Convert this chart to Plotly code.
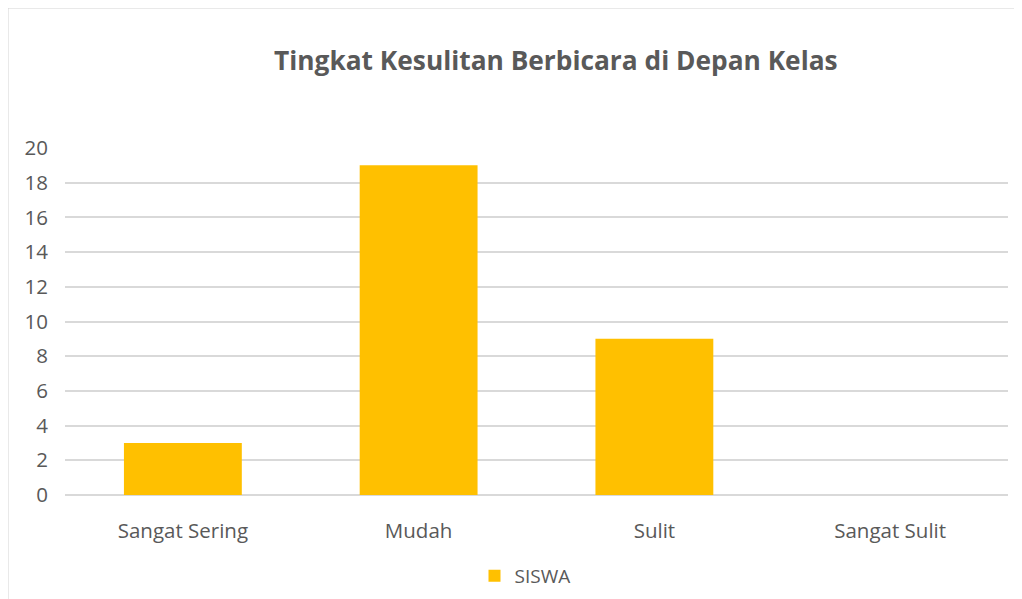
import plotly.graph_objects as go

categories = ["Sangat Sering", "Mudah", "Sulit", "Sangat Sulit"]
siswa = [3, 19, 9, 0]
y_ticks = [0, 2, 4, 6, 8, 10, 12, 14, 16, 18, 20]

OFF = 8  # page body margin
H = 599 - OFF
W = 1022 - OFF - 8
L, T = 65 - OFF, 148 - OFF
R = W - (1008 - OFF)
B = H - (495 - OFF)
pw = W - L - R
ph = H - T - B

def px(xp):
    return (xp - OFF - L) / pw

def py(yp):
    return ((H - B) - (yp - OFF)) / ph

fig = go.Figure()
fig.add_trace(go.Bar(x=categories, y=siswa, name="SISWA", marker=dict(color="#FFC000", line=dict(width=0))))

fig.update_layout(
    width=W, height=H,
    margin=dict(l=L, r=R, t=T, b=B, autoexpand=False),
    paper_bgcolor="white", plot_bgcolor="white",
    bargap=0.5,
    showlegend=True,
    legend=dict(orientation="h", x=px(525), xanchor="center", y=py(576), yanchor="middle",
                font=dict(family="Open Sans", size=19, color="#595959"), itemwidth=30),
    font=dict(family="Open Sans", color="#595959"),
    xaxis=dict(showgrid=False, showline=False, ticks="", tickfont=dict(size=20.5, color="#595959"),
               ticklabelstandoff=21),
    yaxis=dict(range=[0, 20], tickvals=y_ticks, showgrid=True, gridcolor="#D9D9D9", gridwidth=1.5,
               zeroline=True, zerolinecolor="#D9D9D9", zerolinewidth=1.5, showline=False,
               tickfont=dict(size=20.5, color="#595959"), ticklabelstandoff=16),
    annotations=[dict(text="<b>Tingkat Kesulitan Berbicara di Depan Kelas</b>", xref="paper", yref="paper",
                      x=px(556), y=py(60), xanchor="center", yanchor="middle",
                      showarrow=False, font=dict(family="Open Sans", size=26.3, color="#595959"))],
    shapes=[dict(type="rect", xref="paper", yref="paper", x0=px(7.5), x1=px(1100),
                 y0=py(700), y1=py(7.5), line=dict(color="#D4D4D4", width=2),
                 layer="below")],
)

fig.write_html("out.html")
